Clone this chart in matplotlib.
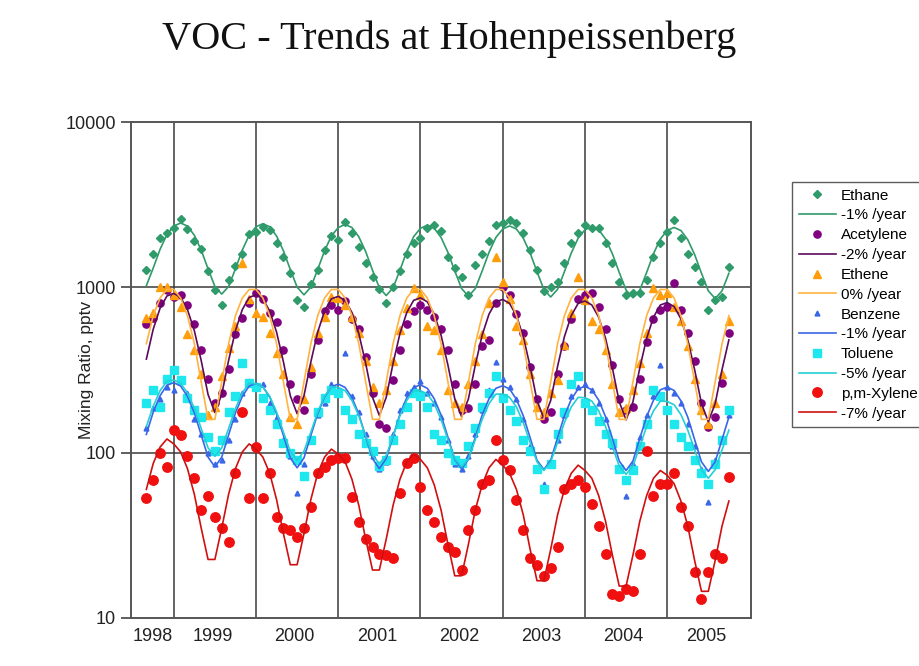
"""VOC trends at Hohenpeissenberg: monthly mixing ratios + seasonal trend fits (log scale)."""

import matplotlib
import numpy as np
import pandas as pd

matplotlib.use("Agg")
import matplotlib.pyplot as plt
from matplotlib.ticker import FixedLocator, FuncFormatter, NullLocator

# monthly samples Sep 1998 .. Oct 2005, as decimal year at the start of each month
months = pd.period_range("1998-09", "2005-10", freq="M")
t = np.array([p.year + (p.month - 1) / 12 for p in months])

year_labels = ["1998", "1999", "2000", "2001", "2002", "2003", "2004", "2005"]
year_label_pos = [1998.74, 1999.47, 2000.47, 2001.47, 2002.47, 2003.47, 2004.47, 2005.47]
year_grid = [1999, 2000, 2001, 2002, 2003, 2004, 2005]

ethane_pts = [1270, 1600, 2000, 2120,
              2300, 2600, 2250, 1900, 1700, 1250, 960, 780, 1100, 1350, 1600, 2100,
              2150, 2320, 2220, 1850, 1530, 1220, 840, 760, 1050, 1270, 1680, 2050,
              1930, 2480, 2130, 1750, 1400, 1150, 980, 800, 1000, 1250, 1600, 1850,
              2000, 2280, 2370, 2200, 1520, 1300, 1150, 900, 1360, 1600, 1900, 2370,
              2450, 2550, 2450, 2130, 1680, 1270, 950, 1000, 1070, 1400, 1850, 2130,
              2370, 2300, 2300, 1850, 1400, 1070, 900, 930, 930, 1100, 1520, 1850,
              2150, 2550, 2000, 1600, 1320, 1070, 730, 840, 880, 1330]
ethane_fit = [1023, 1308, 1697, 2086,
              2347, 2450, 2347, 2065, 1680, 1295, 1013, 910, 1013, 1295, 1680, 2065,
              2324, 2426, 2324, 2044, 1663, 1282, 1003, 901, 1003, 1282, 1663, 2044,
              2300, 2401, 2300, 2024, 1646, 1269, 993, 892, 993, 1269, 1646, 2024,
              2277, 2377, 2277, 2003, 1630, 1256, 983, 883, 983, 1256, 1630, 2003,
              2253, 2352, 2253, 1982, 1613, 1243, 972, 874, 972, 1243, 1613, 1982,
              2230, 2328, 2230, 1962, 1596, 1230, 962, 865, 962, 1230, 1596, 1962,
              2206, 2303, 2206, 1941, 1579, 1217, 952, 855, 952, 1217]

acetylene_pts = [600, 650, 800, 960,
                 870, 900, 780, 600, 420, 280, 200, 230, 320, 520, 650, 800,
                 930, 850, 700, 620, 420, 260, 210, 180, 300, 480, 720, 780,
                 730, 830, 640, 560, 380, 230, 150, 140, 275, 420, 600, 720,
                 780, 730, 660, 560, 420, 260, 180, 185, 260, 440, 480, 800,
                 1000, 900, 690, 530, 330, 210, 160, 175, 300, 440, 640, 850,
                 900, 930, 760, 560, 340, 210, 180, 190, 280, 470, 640, 730,
                 760, 1060, 730, 530, 360, 200, 143, 165, 265, 530]
acetylene_fit = [368, 558, 748, 886,
                 919, 869, 733, 547, 361, 225, 175, 225, 361, 547, 733, 869,
                 901, 852, 718, 536, 354, 221, 172, 221, 354, 536, 718, 852,
                 882, 834, 704, 525, 347, 216, 168, 216, 347, 525, 704, 834,
                 864, 817, 689, 514, 339, 212, 165, 212, 339, 514, 689, 817,
                 845, 799, 674, 503, 332, 207, 161, 207, 332, 503, 674, 799,
                 827, 782, 660, 492, 325, 203, 158, 203, 325, 492, 660, 782,
                 809, 765, 645, 481, 318, 198, 154, 198, 318, 481]

ethene_pts = [650, 700, 1000, 1000,
              900, 760, 520, 420, 300, 170, 190, 290, 430, 580, 1400, 850,
              700, 660, 530, 400, 300, 165, 150, 210, 330, 530, 660, 870,
              860, 780, 660, 530, 360, 250, 200, 240, 360, 550, 750, 990,
              900, 580, 550, 420, 240, 200, 190, 260, 360, 520, 800, 1530,
              1070, 850, 580, 480, 300, 190, 175, 230, 275, 450, 700, 1150,
              840, 630, 560, 420, 260, 175, 185, 240, 350, 530, 990, 900,
              930, 760, 630, 440, 280, 180, 150, 200, 300, 630]
ethene_fit = [456, 674, 862, 971,
              971, 862, 674, 456, 268, 159, 159, 268, 456, 674, 862, 971,
              971, 862, 674, 456, 268, 159, 159, 268, 456, 674, 862, 971,
              971, 862, 674, 456, 268, 159, 159, 268, 456, 674, 862, 971,
              971, 862, 674, 456, 268, 159, 159, 268, 456, 674, 862, 971,
              971, 862, 674, 456, 268, 159, 159, 268, 456, 674, 862, 971,
              971, 862, 674, 456, 268, 159, 159, 268, 456, 674, 862, 971,
              971, 862, 674, 456, 268, 159, 159, 268, 456, 674]

benzene_pts = [140, 185, 210, 250,
               240, 270, 230, 160, 130, 100, 85, 90, 120, 160, 230, 270,
               250, 260, 200, 165, 120, 95, 57, 85, 120, 170, 200, 260,
               240, 400, 220, 175, 130, 95, 80, 88, 130, 180, 230, 250,
               270, 230, 200, 165, 120, 85, 80, 95, 130, 180, 240, 355,
               280, 250, 210, 160, 110, 80, 65, 85, 120, 170, 220, 250,
               260, 240, 200, 160, 110, 80, 55, 85, 125, 170, 220, 340,
               250, 230, 200, 150, 110, 80, 50, 90, 120, 170]
benzene_fit = [129, 176, 221, 256,
               265, 253, 219, 174, 128, 94, 82, 94, 128, 174, 219, 253,
               262, 250, 217, 172, 127, 93, 81, 93, 127, 172, 217, 250,
               260, 248, 215, 171, 125, 92, 80, 92, 125, 171, 215, 248,
               257, 245, 212, 169, 124, 91, 80, 91, 124, 169, 212, 245,
               254, 243, 210, 167, 123, 90, 79, 90, 123, 167, 210, 243,
               252, 240, 208, 165, 122, 89, 78, 89, 122, 165, 208, 240,
               249, 238, 206, 164, 120, 88, 77, 88, 120, 164]

toluene_pts = [200, 240, 190, 280,
               315, 275, 215, 180, 165, 125, 103, 120, 175, 220, 350, 263,
               250, 215, 180, 150, 115, 100, 90, 72, 120, 175, 215, 240,
               230, 180, 160, 130, 115, 103, 83, 90, 120, 150, 190, 230,
               220, 190, 130, 120, 100, 90, 86, 110, 140, 190, 230, 290,
               215, 180, 155, 120, 103, 80, 60, 85, 130, 175, 260, 290,
               200, 180, 155, 130, 115, 80, 68, 78, 110, 150, 240, 220,
               180, 150, 124, 110, 90, 75, 65, 85, 120, 180]
toluene_fit = [144, 191, 237, 271,
               275, 263, 230, 185, 140, 107, 95, 107, 140, 185, 230, 263,
               261, 250, 219, 176, 133, 102, 90, 102, 133, 176, 219, 250,
               248, 237, 207, 167, 126, 96, 86, 96, 126, 167, 207, 237,
               237, 226, 198, 159, 120, 92, 82, 92, 120, 159, 198, 226,
               226, 216, 189, 152, 115, 88, 78, 88, 115, 152, 189, 216,
               215, 205, 179, 144, 109, 83, 74, 83, 109, 144, 179, 205,
               204, 195, 170, 137, 104, 79, 70, 79, 104, 137]

xylene_pts = [53, 68, 100, 82,
              138, 128, 95, 70, 45, 55, 41, 35, 29, 75, 177, 53,
              108, 53, 75, 41, 35, 34, 31, 35, 47, 75, 82, 90,
              93, 93, 54, 38, 30, 27, 24.5, 24, 23, 57, 86, 93,
              62, 45, 38, 31, 27, 25, 19.5, 34, 45, 65, 68, 120,
              90, 78, 52, 34, 23, 21, 18, 20, 27, 60, 65, 68,
              62, 49, 36, 24.5, 14, 13.5, 15, 14.6, 24.5, 103, 55, 65,
              65, 75, 47, 36, 19, 13, 19, 24.5, 23, 71]
xylene_fit = [60, 86, 108, 121,
              113, 101, 80, 56, 35, 22.6, 22.6, 35, 56, 80, 101, 113,
              105, 94, 75, 52, 32.4, 21, 21, 32.4, 52, 75, 94, 105,
              98, 88, 69, 48, 30, 19.5, 19.5, 30, 48, 69, 88, 98,
              91, 81, 64, 45, 28, 18, 18, 28, 45, 64, 81, 91,
              84, 75, 60, 42, 26, 16.8, 16.8, 26, 42, 60, 75, 84,
              78, 70, 55, 38.5, 24, 15.6, 15.6, 24, 38.5, 55, 70, 78,
              73, 65, 51, 36, 22.3, 14.5, 14.5, 22.3, 36, 51]

# (name, points, fit, trend label, marker, marker size, marker colour, line colour)
SERIES = [
    ("Ethane", ethane_pts, ethane_fit, "-1% /year", "D", 4.2, "#2f9a6a", "#2f9a6a"),
    ("Acetylene", acetylene_pts, acetylene_fit, "-2% /year", "o", 5.2, "#800080", "#5c0a5c"),
    ("Ethene", ethene_pts, ethene_fit, "0% /year", "^", 6.2, "#ff9d0a", "#ffb340"),
    ("Benzene", benzene_pts, benzene_fit, "-1% /year", "^", 3.5, "#3a66e8", "#3a66e8"),
    ("Toluene", toluene_pts, toluene_fit, "-5% /year", "s", 5.2, "#1ee8ee", "#22cfd6"),
    ("p,m-Xylene", xylene_pts, xylene_fit, "-7% /year", "o", 6.8, "#f01010", "#d01010"),
]

fig = plt.figure(figsize=(9.2, 6.66), dpi=100)
ax = fig.add_axes([0.1424, 0.0721, 0.674, 0.7447])

handles, labels = [], []
for name, pts, fit, trend, mk, ms, mcol, lcol in SERIES:
    assert len(pts) == len(t) and len(fit) == len(t), name
    (p,) = ax.plot(t, pts, ls="none", marker=mk, ms=ms, color=mcol, mec=mcol, zorder=3)
    (l,) = ax.plot(t, fit, ls="-", lw=1.2, color=lcol, zorder=4)
    handles += [p, l]
    labels += [name, trend]

ax.set_yscale("log")
ax.set_ylim(10, 10000)
ax.set_xlim(1998.48, 2006.02)
ax.yaxis.set_major_locator(FixedLocator([10, 100, 1000, 10000]))
ax.yaxis.set_minor_locator(NullLocator())
ax.yaxis.set_major_formatter(FuncFormatter(lambda v, _: f"{int(round(v))}"))
ax.tick_params(axis="y", direction="out", length=7, width=1.2, color="#444",
               labelsize=13, pad=4)

# year boundaries as grid lines, year labels centred in each year
ax.xaxis.set_major_locator(FixedLocator(year_grid))
ax.xaxis.set_major_formatter(FuncFormatter(lambda v, _: ""))
ax.xaxis.set_minor_locator(FixedLocator(year_label_pos))
ax.set_xticklabels(year_labels, minor=True)
ax.tick_params(axis="x", which="both", length=0, labelsize=13, pad=7)
for x in year_grid:
    ax.axvline(x, color="#3a3a3a", lw=1.1, zorder=1)
for y in (100, 1000):
    ax.axhline(y, color="#3a3a3a", lw=1.1, zorder=1)
for s in ax.spines.values():
    s.set_color("#555")
    s.set_linewidth(1.4)

for lab in ax.get_xticklabels(minor=True) + ax.get_yticklabels():
    lab.set_fontfamily("Liberation Sans")
    lab.set_color("#222")

fig.text(0.0935, 0.444, "Mixing Ratio, pptv", rotation=90, ha="center", va="center",
         fontsize=12.5, family="Liberation Sans", color="#222")
fig.text(0.488, 0.941, "VOC - Trends at Hohenpeissenberg", ha="center", va="center",
         fontsize=29, family="Liberation Serif", color="#111")

# legend runs off the right edge of the figure, as in the original
leg = fig.legend(handles, labels, loc="upper left", bbox_to_anchor=(0.861, 0.727),
                 prop={"family": "Liberation Sans", "size": 11}, frameon=True,
                 fancybox=False, edgecolor="#333", labelspacing=0.38, handlelength=2.4,
                 handletextpad=0.35, borderpad=0.45, borderaxespad=0.0)
leg.get_frame().set_linewidth(1.0)

fig.savefig("out.png", dpi=100)
